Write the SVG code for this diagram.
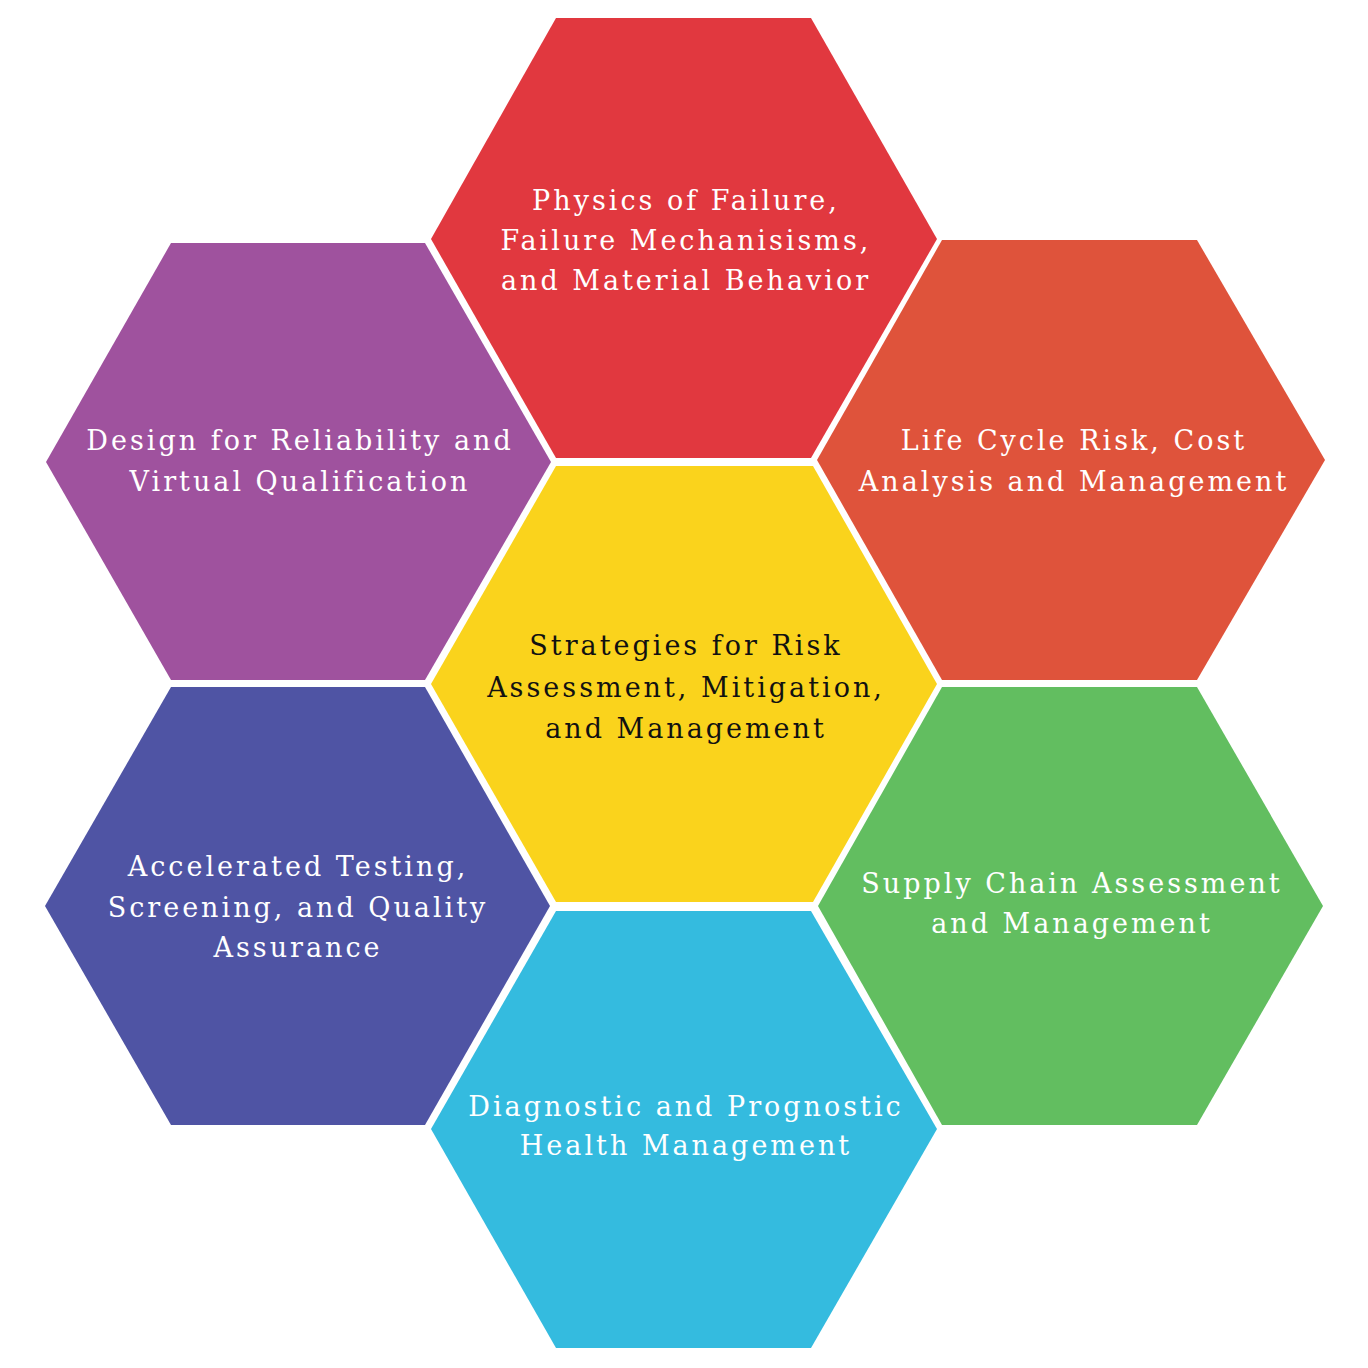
<svg xmlns="http://www.w3.org/2000/svg" width="1368" height="1368" viewBox="0 0 1368 1368">
<style>
.t{font-family:"DejaVu Serif","Liberation Serif",serif;font-size:27px;letter-spacing:3px;text-anchor:middle;fill:#ffffff}
.d{fill:#111111}
</style>
<rect width="1368" height="1368" fill="#ffffff"/>
<g id="center"><polygon points="556,466 813,466 937,684 813,902 556,902 431,684" fill="#FAD31C"/>
<text class="t d" x="686" y="655">Strategies for Risk</text><text class="t d" x="686" y="697">Assessment, Mitigation,</text><text class="t d" x="686" y="738">and Management</text></g>
<g id="top"><polygon points="556,18 811,18 937,239 811,458 556,458 431,239" fill="#E1383F"/>
<text class="t" x="686" y="210">Physics of Failure,</text><text class="t" x="686" y="250">Failure Mechanisisms,</text><text class="t" x="686" y="290">and Material Behavior</text></g>
<g id="right-upper"><polygon points="942,240 1197,240 1325,460 1197,680 942,680 817,460" fill="#DF533B"/>
<text class="t" x="1074" y="450">Life Cycle Risk, Cost</text><text class="t" x="1074" y="491">Analysis and Management</text></g>
<g id="right-lower"><polygon points="942,687 1197,687 1323,906 1197,1125 942,1125 818,906" fill="#62BE60"/>
<text class="t" x="1072" y="893">Supply Chain Assessment</text><text class="t" x="1072" y="933">and Management</text></g>
<g id="bottom"><polygon points="556,911 811,911 937,1129 811,1348 556,1348 431,1129" fill="#34BBDF"/>
<text class="t" x="686" y="1116">Diagnostic and Prognostic</text><text class="t" x="686" y="1155">Health Management</text></g>
<g id="left-lower"><polygon points="171,687 425,687 550,906 425,1125 171,1125 45,906" fill="#4F54A4"/>
<text class="t" x="298" y="876">Accelerated Testing,</text><text class="t" x="298" y="917">Screening, and Quality</text><text class="t" x="298" y="957">Assurance</text></g>
<g id="left-upper"><polygon points="171,243 425,243 551,462 425,680 171,680 46,462" fill="#9F529E"/>
<text class="t" x="300" y="450">Design for Reliability and</text><text class="t" x="300" y="491">Virtual Qualification</text></g>
<g id="connectors"/>
</svg>
